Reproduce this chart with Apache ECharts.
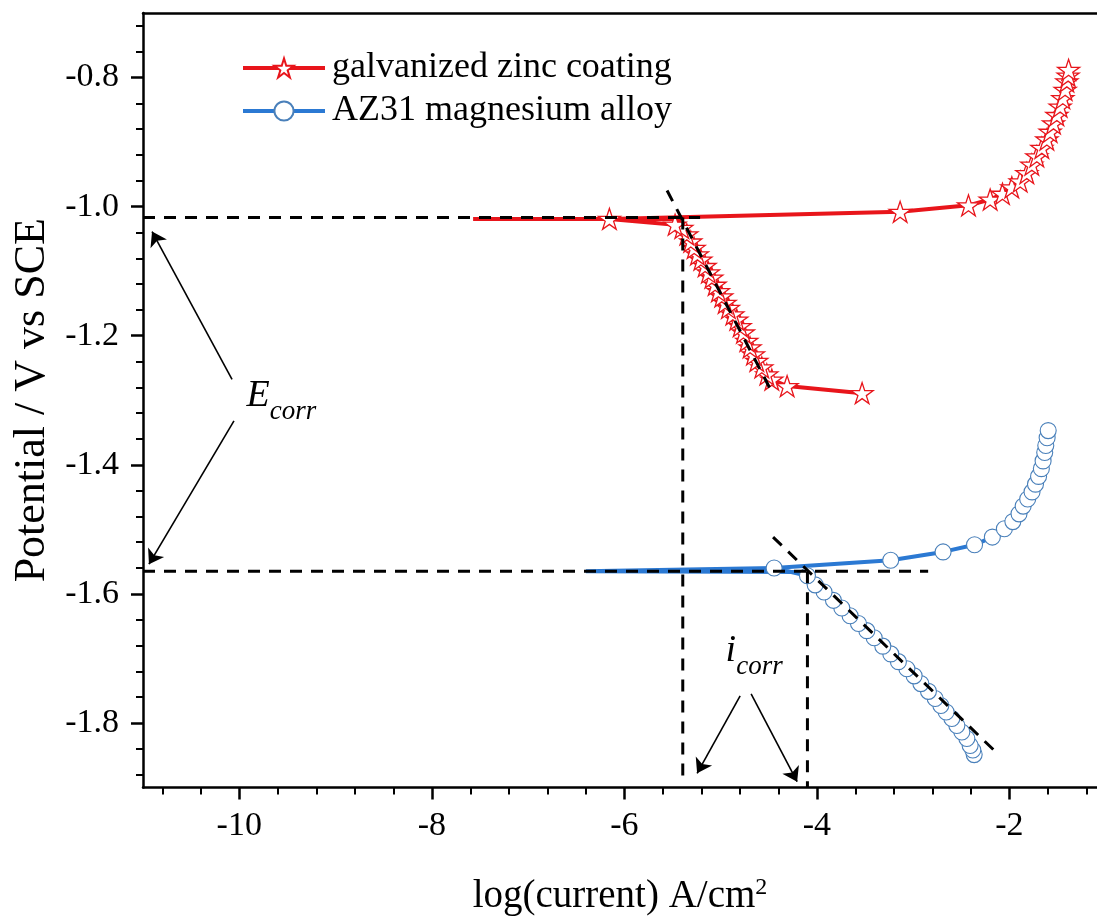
<!DOCTYPE html>
<html><head><meta charset="utf-8">
<script src="https://cdn.jsdelivr.net/npm/echarts@6/dist/echarts.min.js"></script>
<style>html,body{margin:0;padding:0;background:#fff}#c{width:1097px;height:921px}</style>
</head><body><div id="c"></div>
<script>
// ---- data (log|i| in A/cm2, potential in V vs SCE) ----
const redX = [-3.530,-4.309,-4.468,-4.520,-4.572,-4.624,-4.659,-4.694,-4.728,-4.763,-4.797,-4.832,-4.873,-4.919,-4.953,-4.988,-5.023,-5.057,-5.091,-5.127,-5.161,-5.205,-5.241,-5.275,-5.310,-5.351,-5.403,-5.473,-6.155,-3.135,-2.425,-2.200,-2.072,-1.975,-1.888,-1.819,-1.767,-1.715,-1.663,-1.611,-1.577,-1.542,-1.507,-1.473,-1.445,-1.421,-1.403,-1.390,-1.385];
const redY = [-1.289,-1.278,-1.268,-1.260,-1.249,-1.239,-1.229,-1.218,-1.208,-1.195,-1.185,-1.175,-1.167,-1.157,-1.149,-1.139,-1.131,-1.121,-1.110,-1.102,-1.092,-1.082,-1.074,-1.064,-1.054,-1.043,-1.033,-1.028,-1.019,-1.008,-0.998,-0.989,-0.980,-0.970,-0.961,-0.948,-0.935,-0.922,-0.909,-0.896,-0.884,-0.871,-0.858,-0.845,-0.832,-0.819,-0.806,-0.797,-0.788];
const redTailX = [-5.473,-5.400,-7.571];
const redTailY = [-1.028,-1.019,-1.019];

const blueX = [-2.366,-2.380,-2.408,-2.442,-2.494,-2.546,-2.598,-2.657,-2.712,-2.771,-2.841,-2.920,-2.990,-3.065,-3.153,-3.232,-3.315,-3.405,-3.481,-3.568,-3.655,-3.741,-3.828,-3.925,-4.018,-4.098,-4.444,-3.233,-2.689,-2.362,-2.177,-2.052,-1.964,-1.900,-1.857,-1.810,-1.765,-1.729,-1.697,-1.668,-1.650,-1.633,-1.622,-1.608,-1.597];
const blueY = [-1.849,-1.842,-1.835,-1.824,-1.814,-1.804,-1.793,-1.783,-1.773,-1.762,-1.751,-1.739,-1.727,-1.716,-1.705,-1.693,-1.681,-1.668,-1.657,-1.646,-1.634,-1.622,-1.610,-1.597,-1.586,-1.572,-1.560,-1.548,-1.535,-1.524,-1.512,-1.499,-1.488,-1.476,-1.464,-1.453,-1.442,-1.430,-1.418,-1.406,-1.394,-1.381,-1.370,-1.358,-1.347];
const blueTailX = [-4.098,-4.150,-6.400,-4.444];
const blueTailY = [-1.572,-1.566,-1.565,-1.560];

// dashed construction lines: [x1, x2], [y1, y2]
const guideX = [[-11,-5.213],[-5.393,-5.393],[-5.556,-4.465],[-11,-2.844],[-4.098,-4.098],[-4.455,-2.127]];
const guideY = [[-1.017,-1.017],[-1.017,-1.883],[-0.975,-1.288],[-1.565,-1.565],[-1.565,-1.900],[-1.512,-1.847]];

// annotation arrows: from -> to
const arrowFrom = [[-10.075,-1.2675],[-10.055,-1.332],[-4.797,-1.758],[-4.683,-1.755]];
const arrowTo   = [[-10.906,-1.0386],[-10.938,-1.554],[-5.244,-1.878],[-4.205,-1.891]];
const noteMain = ['E','i'];
const noteSub = ['corr','corr'];
const notePos = [[-9.930,-1.3015],[-4.953,-1.697]];

const seriesNames = ['galvanized zinc coating','AZ31 magnesium alloy'];
const xTicks = [-10,-8,-6,-4,-2];
const yTicks = [-1.8,-1.6,-1.4,-1.2,-1.0,-0.8];

// ---- build ----
const FONT = '"Liberation Serif","Times New Roman",serif';
const RED = '#e8151b', BLUE = '#2b79d3', CIRC = '#4a80ba';
const STAR = 'path://M50,0L61.2,34.5L97.6,34.5L68.2,55.9L79.4,90.5L50,69.1L20.6,90.5L31.8,55.9L2.4,34.5L38.8,34.5Z';
const zip = (a,b) => a.map((v,i)=>[v,b[i]]);

const xMinor = []; for (let k=-27; k<=-3; k++){ const v = +(k*0.4).toFixed(2); if (!xTicks.includes(v)) xMinor.push(v); }
const yMinor = []; for (let k=-47; k<=-18; k++){ const v = +(k*0.04).toFixed(2); if (!yTicks.some(t=>Math.abs(t-v)<1e-9)) yMinor.push(v); }

const series = [];
series.push({type:'line', data: zip(redTailX, redTailY), symbol:'none', lineStyle:{color:RED,width:4}, z:2, silent:true, animation:false});
series.push({type:'line', name: seriesNames[0], data: zip(redX, redY), symbol: STAR, symbolSize: 22, symbolKeepAspect:true,
  itemStyle:{color:'#fff', borderColor:RED, borderWidth:1.3}, lineStyle:{color:RED,width:4}, z:3, animation:false});
series.push({type:'line', data: zip(blueTailX, blueTailY), symbol:'none', lineStyle:{color:BLUE,width:4}, z:2, silent:true, animation:false});
series.push({type:'line', name: seriesNames[1], data: zip(blueX, blueY), symbol:'circle', symbolSize: 16,
  itemStyle:{color:'#fff', borderColor:CIRC, borderWidth:1.1}, lineStyle:{color:BLUE,width:4}, z:3, animation:false});
guideX.forEach((gx,i)=>{
  series.push({type:'line', data: zip(gx, guideY[i]), symbol:'none', silent:true, animation:false, z:5,
    lineStyle:{color:'#000', width:3, type:[12,9]}});
});
series.push({type:'scatter', data: [], silent:true, animation:false, z:6,
  markLine:{silent:true, animation:false, symbol:['none','arrow'], symbolSize:14, label:{show:false},
    itemStyle:{color:'#000'},
    lineStyle:{color:'#000', width:1.6, type:'solid'},
    data: arrowFrom.map((f,i)=>[{coord:f},{coord:arrowTo[i]}])}});
series.push({type:'scatter', data: notePos.map((p,i)=>({value:p, name:String(i)})), symbolSize:1, itemStyle:{color:'transparent'}, silent:true, animation:false, z:6,
  label:{show:true, position:'right', distance:0, color:'#000', opacity:1, formatter:(p)=>'{a|'+noteMain[p.dataIndex]+'}{b|'+noteSub[p.dataIndex]+'}',
    rich:{a:{fontFamily:FONT, fontStyle:'italic', fontSize:38, color:'#000', verticalAlign:'bottom', padding:[0,0,10,0]},
          b:{fontFamily:FONT, fontStyle:'italic', fontSize:27, color:'#000', verticalAlign:'bottom'}}}});

const axLine = {show:true, lineStyle:{color:'#000', width:2.5}};
const option = {
  backgroundColor:'#fff',
  animation:false,
  grid:{left:143, top:13, right:0, bottom:132, containLabel:false},
  legend:{data:seriesNames, orient:'vertical', left:236, top:45, itemWidth:82, itemHeight:24, itemGap:7,
    lineStyle:{width:4},
    textStyle:{fontFamily:FONT, fontSize:36, color:'#000', lineHeight:36, padding:[0,0,0,2]}},
  xAxis:[
    {type:'value', min:-11, max:-1.09, position:'bottom', splitLine:{show:false}, axisLine:axLine,
     axisTick:{show:true, inside:false, length:12, lineStyle:{width:2.5,color:'#000'}, customValues:xTicks},
     axisLabel:{customValues:xTicks, fontFamily:FONT, fontSize:34, color:'#000', margin:22},
     name:'log(current) A/cm{s|2}', nameLocation:'middle', nameGap:88,
     nameTextStyle:{fontFamily:FONT, fontSize:39, color:'#000',
       rich:{s:{fontFamily:FONT, fontSize:24, color:'#000', verticalAlign:'top', padding:[0,0,18,0]}}}},
    {type:'value', min:-11, max:-1.09, position:'bottom', splitLine:{show:false}, axisLine:{show:false},
     axisTick:{show:true, inside:false, length:7, lineStyle:{width:2,color:'#000'}, customValues:xMinor}, axisLabel:{show:false}},
    {type:'value', min:-11, max:-1.09, position:'top', splitLine:{show:false}, axisLine:axLine, axisTick:{show:false}, axisLabel:{show:false}}
  ],
  yAxis:[
    {type:'value', min:-1.9, max:-0.7, position:'left', splitLine:{show:false}, axisLine:axLine,
     axisTick:{show:true, inside:false, length:12, lineStyle:{width:2.5,color:'#000'}, customValues:yTicks},
     axisLabel:{customValues:yTicks, formatter:(v)=>v.toFixed(1), fontFamily:FONT, fontSize:34, color:'#000', margin:24},
     name:'Potential / V vs SCE', nameLocation:'middle', nameGap:86, nameRotate:90, nameTextStyle:{fontFamily:FONT, fontSize:44, color:'#000'}},
    {type:'value', min:-1.9, max:-0.7, position:'left', splitLine:{show:false}, axisLine:{show:false},
     axisTick:{show:true, inside:false, length:7, lineStyle:{width:2,color:'#000'}, customValues:yMinor}, axisLabel:{show:false}}
  ],
  series: series
};
const chart = echarts.init(document.getElementById('c'), null, {renderer:'canvas'});
chart.setOption(option);
</script>
</body></html>
